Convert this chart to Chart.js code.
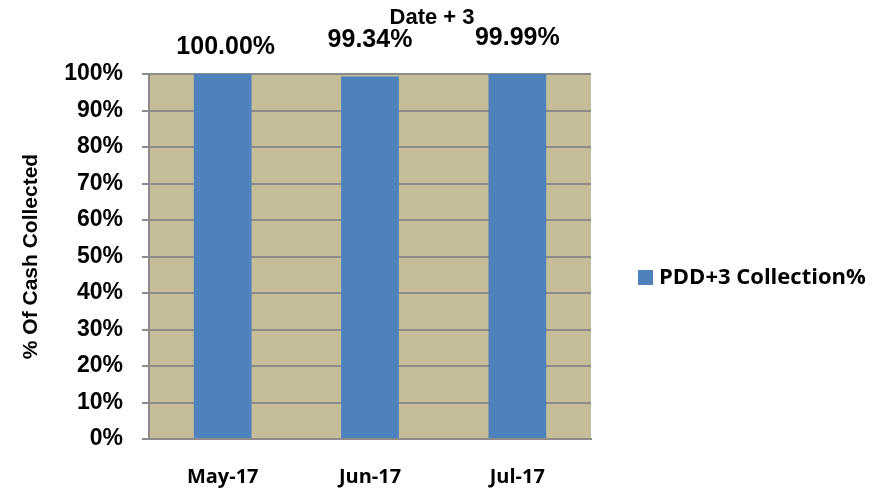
<!DOCTYPE html>
<html>
<head>
<meta charset="utf-8">
<script src="https://cdn.jsdelivr.net/npm/chart.js@4.4.0/dist/chart.umd.min.js"></script>
<style>
  html, body { margin: 0; padding: 0; background: #ffffff; }
  #wrap { width: 887px; height: 493px; }
</style>
</head>
<body>
<div id="wrap"><canvas id="collectionChart" width="887" height="493"></canvas></div>
<script>
// 차트 데이터
const months = ['May-17', 'Jun-17', 'Jul-17'];
const collectionPct = [100.00, 99.34, 99.99];
const valueLabels = ['100.00%', '99.34%', '99.99%'];
const seriesName = 'PDD+3 Collection%';
const chartTitle = 'Date + 3';
const yAxisTitle = '% Of Cash Collected';

const PLOT_BG = '#C4BD97';
const BAR_COLOR = '#4F81BD';
const GRID_COLOR = '#8C8C8C';

// 값 라벨 위치 보정 (원본에서 라벨이 조금씩 어긋나 있음)
const labelLift = [27, 36, 36];
const labelShift = [3, 0, 0];

// 플롯 배경 + 제목 + 값 라벨 + 범례를 직접 그림
const decorPlugin = {
    id: 'decor',
    beforeDraw(chart) {
        const { ctx, chartArea: a } = chart;
        ctx.save();
        ctx.fillStyle = PLOT_BG;
        ctx.fillRect(a.left, a.top, a.right - a.left, a.bottom - a.top);
        ctx.restore();
    },
    afterDatasetsDraw(chart) {
        const { ctx } = chart;
        const meta = chart.getDatasetMeta(0);
        ctx.save();
        ctx.fillStyle = '#000';
        ctx.textAlign = 'center';
        ctx.textBaseline = 'middle';

        ctx.font = 'bold 22px "Liberation Sans", Arial, sans-serif';
        ctx.fillText(chartTitle, 432, 18);

        ctx.font = 'bold 25px "Liberation Sans", Arial, sans-serif';
        meta.data.forEach((bar, i) => {
            ctx.fillText(valueLabels[i], bar.x + labelShift[i], bar.y - labelLift[i]);
        });

        // 범례
        ctx.fillStyle = BAR_COLOR;
        ctx.fillRect(638, 270, 15, 15);
        ctx.fillStyle = '#000';
        ctx.textAlign = 'left';
        ctx.font = 'bold 22px "Open Sans", sans-serif';
        ctx.fillText(seriesName, 659, 278);
        ctx.restore();
    }
};

new Chart(document.getElementById('collectionChart'), {
    type: 'bar',
    data: {
        labels: months,
        datasets: [{
            label: seriesName,
            data: collectionPct,
            backgroundColor: BAR_COLOR,
            categoryPercentage: 0.8,
            barPercentage: 0.49
        }]
    },
    options: {
        responsive: false,
        animation: false,
        layout: { padding: { top: 74, right: 296, left: 19, bottom: -22 } },
        plugins: {
            legend: { display: false },
            title: { display: false },
            tooltip: { enabled: false }
        },
        scales: {
            x: {
                grid: { display: false, drawTicks: false },
                border: { color: GRID_COLOR, width: 2 },
                ticks: {
                    color: '#000',
                    padding: 26,
                    font: { family: '"Open Sans", sans-serif', size: 20, weight: 'bold' }
                }
            },
            y: {
                min: 0,
                max: 100,
                ticks: {
                    stepSize: 10,
                    color: '#000',
                    padding: 19,
                    callback: v => v + '%',
                    font: { family: '"Liberation Sans", Arial, sans-serif', size: 23, weight: 'bold' }
                },
                grid: { color: GRID_COLOR, lineWidth: 2, tickLength: 7 },
                border: { color: GRID_COLOR, width: 2 },
                title: {
                    display: true,
                    text: yAxisTitle,
                    color: '#000',
                    padding: { top: 0, bottom: 1 },
                    font: { family: '"Liberation Sans", Arial, sans-serif', size: 21, weight: 'bold' }
                }
            }
        }
    },
    plugins: [decorPlugin]
});
</script>
</body>
</html>
